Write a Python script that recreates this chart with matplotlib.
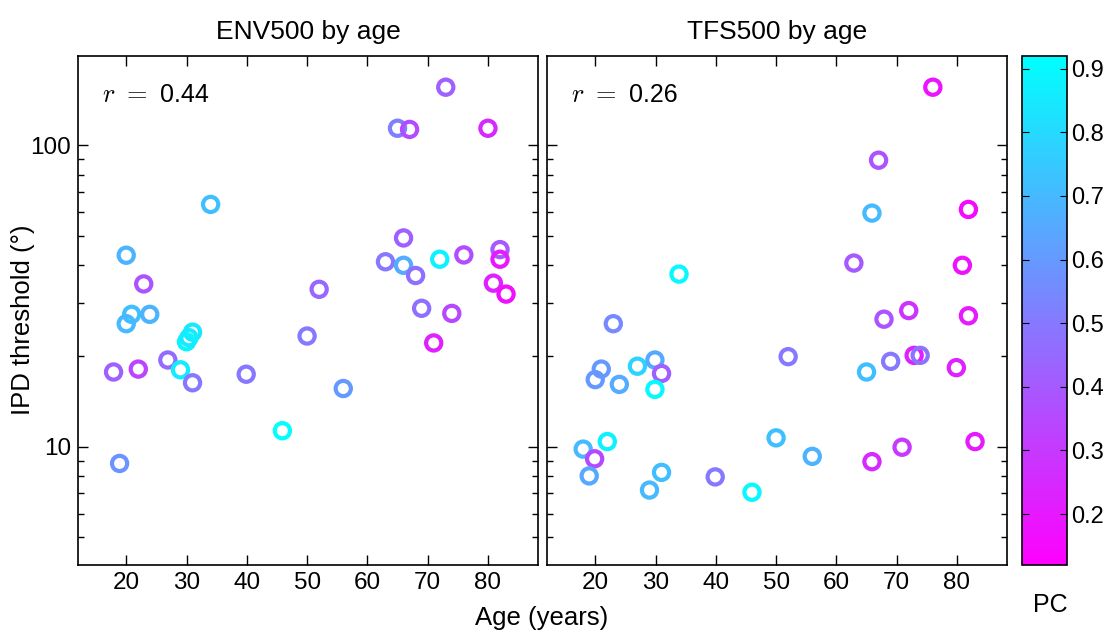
import matplotlib
matplotlib.use("Agg")
import matplotlib.pyplot as plt
import numpy as np
from matplotlib.colors import Normalize
from matplotlib.cm import ScalarMappable
from matplotlib.ticker import FixedLocator, NullFormatter

plt.rcParams["font.family"] = ["Liberation Sans", "DejaVu Sans"]
plt.rcParams["mathtext.fontset"] = "cm"

# ENV500: age, IPD threshold (deg), proportion correct
env_age = [73, 65, 67, 80, 34, 20, 22.9, 20.9, 20, 23.9, 31, 30, 30.4,
           17.9, 22, 26.9, 29, 31, 39.9, 50, 52, 45.9, 56, 18.9,
           63, 66, 66, 68, 72, 76, 82, 82, 80.9, 83, 69, 74, 71]
env_ipd = [156, 114, 113, 114, 63.7, 43.2, 34.7, 27.5, 25.6, 27.5, 24.0, 22.3, 23.0,
           17.7, 18.1, 19.4, 18.0, 16.3, 17.4, 23.3, 33.3, 11.3, 15.6, 8.8,
           41.1, 49.3, 40.0, 37.0, 41.9, 43.3, 45.1, 41.9, 34.9, 32.1, 28.8, 27.7, 22.1]
env_pc = [0.42, 0.52, 0.36, 0.25, 0.72, 0.68, 0.38, 0.72, 0.7, 0.68, 0.85, 0.88, 0.86,
          0.42, 0.33, 0.46, 0.86, 0.5, 0.5, 0.5, 0.44, 0.92, 0.6, 0.58,
          0.5, 0.42, 0.66, 0.47, 0.88, 0.36, 0.4, 0.2, 0.22, 0.17, 0.47, 0.35, 0.22]

# TFS500
tfs_age = [76, 67, 65.9, 81.9, 62.9, 80.9, 33.9, 72, 67.9, 81.9, 23, 52, 72.9, 73.9,
           69, 65, 79.9, 21, 20, 24, 27, 29.9, 31, 29.9, 18, 19.9, 22, 19, 29, 31,
           39.9, 46, 50, 56, 65.9, 70.9, 83]
tfs_ipd = [156, 89.3, 59.6, 61.3, 40.7, 40.0, 37.4, 28.3, 26.5, 27.2, 25.6, 19.9, 20.1, 20.1,
           19.2, 17.7, 18.3, 18.1, 16.7, 16.1, 18.5, 19.4, 17.5, 15.5, 9.82, 9.12, 10.4, 8.0,
           7.18, 8.22, 7.94, 7.06, 10.7, 9.29, 8.92, 9.96, 10.4]
tfs_pc = [0.18, 0.38, 0.7, 0.15, 0.4, 0.18, 0.9, 0.28, 0.38, 0.2, 0.55, 0.5, 0.22, 0.48,
          0.5, 0.72, 0.22, 0.6, 0.6, 0.66, 0.78, 0.65, 0.42, 0.9, 0.7, 0.35, 0.88, 0.65,
          0.7, 0.72, 0.5, 0.9, 0.72, 0.68, 0.25, 0.3, 0.2]

panels = [("ENV500 by age", env_age, env_ipd, env_pc, 0.44),
          ("TFS500 by age", tfs_age, tfs_ipd, tfs_pc, 0.26)]

cmap = plt.get_cmap("cool_r")
norm = Normalize(vmin=0.12, vmax=0.92)

fig = plt.figure(figsize=(11.2, 6.35), dpi=100)
lefts = [78 / 1120, 547 / 1120]
axes = []
for k, (title, age, ipd, pc, r) in enumerate(panels):
    ax = fig.add_axes([lefts[k], 70 / 635, 460 / 1120, 509 / 635])
    ax.scatter(age, ipd, s=120, facecolors="none",
               edgecolors=cmap(norm(np.array(pc))), linewidths=3.0, zorder=3)
    ax.set_yscale("log")
    ax.set_xlim(12, 88.3)
    ax.set_ylim(4.05, 198)
    ax.set_xticks([20, 30, 40, 50, 60, 70, 80])
    ax.yaxis.set_major_locator(FixedLocator([10, 100]))
    ax.yaxis.set_minor_locator(FixedLocator([5, 6, 7, 8, 9, 20, 30, 40, 50, 60, 70, 80, 90]))
    ax.yaxis.set_minor_formatter(NullFormatter())
    ax.set_yticklabels(["10", "100"] if k == 0 else [])
    ax.tick_params(which="both", direction="in", top=True, right=True,
                   labelsize=17.5, width=1, pad=5)
    ax.tick_params(which="major", length=7)
    ax.tick_params(which="minor", length=4)
    for sp in ax.spines.values():
        sp.set_linewidth(1.2)
    ax.set_title(title, fontsize=19, pad=12)
    ax.text(0.052, 0.923, r"$r\ =$", transform=ax.transAxes, fontsize=19,
            va="center", ha="left")
    ax.text(0.178, 0.923, f"{r:.2f}", transform=ax.transAxes, fontsize=18,
            va="center", ha="left")
    axes.append(ax)

fig.text(23 / 1120, 1 - 320 / 635, "IPD threshold (°)", fontsize=18.5,
         rotation=90, ha="center", va="center")
fig.text(542 / 1120, 1 - 618 / 635, "Age (years)", fontsize=18.5,
         ha="center", va="center")

cax = fig.add_axes([1022 / 1120, 70 / 635, 45 / 1120, 509 / 635])
sm = ScalarMappable(norm=norm, cmap=cmap)
cb = fig.colorbar(sm, cax=cax)
cb.set_ticks([0.2, 0.3, 0.4, 0.5, 0.6, 0.7, 0.8, 0.9])
cb.ax.tick_params(direction="in", left=True, right=True, length=5,
                  labelsize=17, pad=3)
cb.outline.set_linewidth(1.2)
fig.text(1050 / 1120, 1 - 605 / 635, "PC", fontsize=18, ha="center", va="center")

fig.savefig("out.png", dpi=100)
